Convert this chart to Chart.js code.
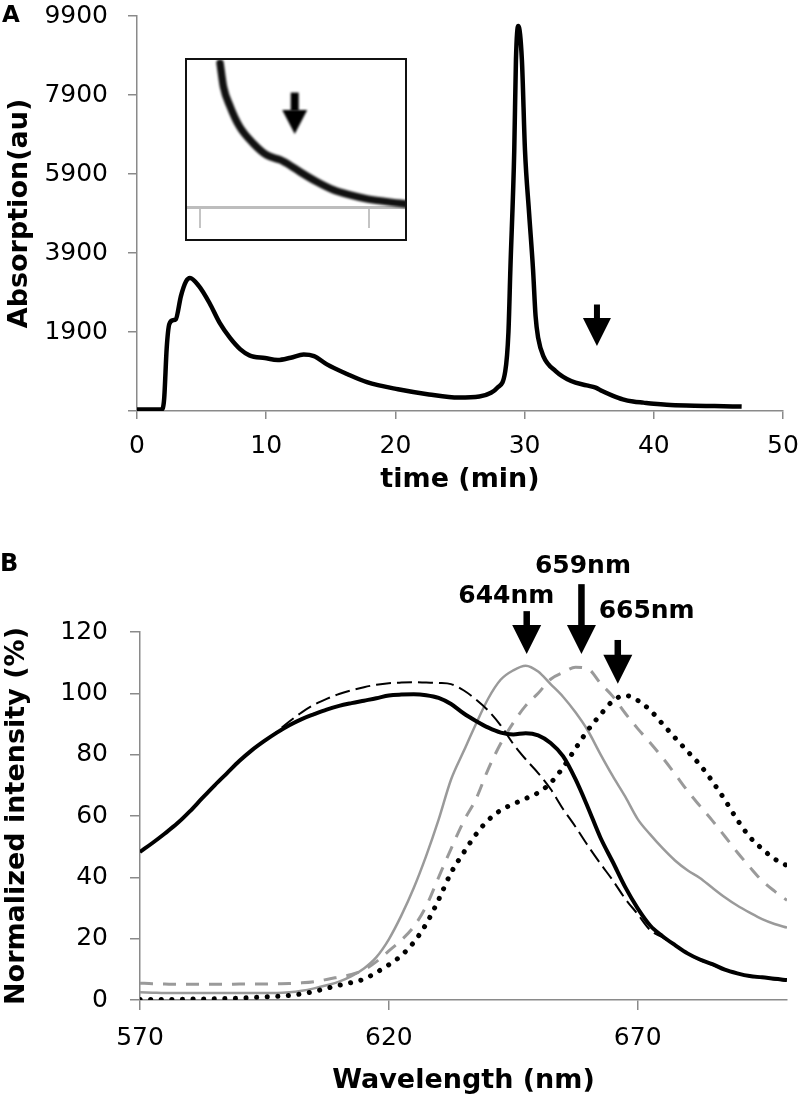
<!DOCTYPE html>
<html>
<head>
<meta charset="utf-8">
<script src="https://cdn.jsdelivr.net/npm/chart.js@4.4.1/dist/chart.umd.min.js"></script>
<style>
  html, body { margin: 0; padding: 0; background: #fff; }
  #wrap { position: relative; width: 800px; height: 1098px; }
  #chartA { position: absolute; left: 0; top: 0; }
  #chartB { position: absolute; left: 0; top: 530px; }
  #insetBox { position: absolute; left: 185px; top: 58px; width: 222px; height: 183px;
              border: 2px solid #111; box-sizing: border-box; background: #fff; }
  #insetBox canvas { display: block; }
</style>
</head>
<body>
<div id="wrap">
  <canvas id="chartA" width="800" height="530"></canvas>
  <div id="insetBox"><canvas id="chartInset" width="218" height="179"></canvas></div>
  <canvas id="chartB" width="800" height="568"></canvas>
</div>
<script>
// ---- Panel A: chromatogram ----
const timeMin = [0, 1.9, 2.1, 2.3, 2.5, 2.8, 3.0, 3.4, 3.8, 4.1, 4.8, 5.6, 6.4, 7.2, 8.0, 8.7,
  9.9, 10.9, 11.9, 12.9, 13.7, 14.7, 16.3, 17.8, 20.2, 22.6, 24.9, 26.5, 27.4, 27.9, 28.5,
  28.75, 28.9, 29.2, 29.33, 29.51, 29.79, 30.03, 30.35, 30.65, 30.85, 31.05, 31.45, 32.4, 33.6,
  34.8, 35.5, 36.0, 36.8, 37.6, 38.4, 39.2, 40.0, 41.0, 42.5, 44.7, 46.8];
const absorbance = [-60, -60, 200, 1500, 2100, 2200, 2220, 2810, 3185, 3270, 3060, 2640, 2130,
  1750, 1460, 1310, 1240, 1190, 1250, 1330, 1290, 1080, 830, 630, 450, 320, 240, 265, 360, 490,
  900, 1900, 3500, 6500, 8790, 9650, 8790, 6500, 4900, 3500, 2300, 1750, 1290, 910, 658, 549,
  490, 405, 290, 196, 140, 112, 85, 60, 40, 25, 12];
const yTicksA = [-100, 1900, 3900, 5900, 7900, 9900];

// inset (zoom on the shoulder near 35 min)
const insetTime = [34.24, 34.28, 34.36, 34.47, 34.63, 34.79, 34.95, 35.06, 35.18, 35.38, 35.58,
  35.77, 35.97, 36.36, 36.43];
const insetAbs = [887, 791, 709, 628, 560, 512, 492, 471, 444, 403, 369, 349, 333, 315, 312];
const insetTicks = [34, 36];

// arrows on panel A (x, top of shaft, tip)
const arrowA = { x: [35.6], top: [2596], tip: [1543] };
const arrowInset = { x: [35.12], top: [767], tip: [598] };

// ---- Panel B: spectra ----
const wavelength = [570, 572.5, 575, 577.5, 580, 582.5, 585, 587.5, 590, 592.5, 595, 597.5,
  600, 602.5, 605, 607.5, 610, 612.5, 615, 617.5, 620, 622.5, 625, 627.5, 630, 632.5, 635,
  637.5, 640, 642.5, 645, 647.5, 650, 652.5, 655, 657.5, 660, 662.5, 665, 667.5, 670, 672.5,
  675, 677.5, 680, 682.5, 685, 687.5, 690, 692.5, 695, 697.5, 700];
const blackSolid = [48.3, 51.2, 54.3, 57.6, 61.5, 65.8, 70.0, 74.0, 78.0, 81.5, 84.5, 87.2,
  89.6, 91.6, 93.2, 94.7, 95.9, 96.8, 97.6, 98.4, 99.3, 99.6, 99.7, 99.4, 98.5, 96.5, 93.5,
  91.0, 88.8, 87.2, 86.6, 87.0, 86.3, 83.8, 79.5, 72.0, 62.8, 53.0, 45.0, 36.8, 29.9, 24.3,
  20.8, 17.9, 15.2, 13.2, 11.7, 9.9, 8.7, 7.8, 7.4, 6.9, 6.5];
const blackDashed = [48.3, 51.2, 54.3, 57.6, 61.5, 65.8, 70.0, 74.0, 78.0, 81.5, 84.5, 87.5,
  90.8, 93.8, 96.3, 98.2, 99.8, 101.0, 102.0, 102.8, 103.3, 103.5, 103.6, 103.5, 103.4, 103.0,
  101.0, 98.0, 94.3, 89.5, 83.5, 78.5, 74.0, 68.8, 62.3, 56.5, 50.3, 44.5, 39.0, 33.0, 28.0,
  22.8, 20.4, 17.7, 15.1, 13.0, 11.5, 9.8, 8.6, 7.7, 7.2, 6.7, 6.3];
const graySolid = [2.5, 2.4, 2.3, 2.3, 2.3, 2.3, 2.3, 2.3, 2.3, 2.3, 2.3, 2.3, 2.5, 3.0, 3.8,
  4.8, 6.0, 7.8, 10.3, 14.0, 19.8, 27.5, 36.5, 47.0, 58.8, 71.9, 81.0, 90.0, 98.4, 104.5, 107.5,
  109.0, 107.1, 103.0, 98.9, 93.8, 87.8, 80.2, 73.0, 66.3, 59.0, 54.0, 49.5, 45.5, 42.3, 39.8,
  36.6, 33.5, 30.8, 28.5, 26.4, 24.8, 23.6];
const grayDashed = [5.5, 5.3, 5.2, 5.1, 5.1, 5.1, 5.1, 5.1, 5.2, 5.2, 5.2, 5.3, 5.4, 5.6, 6.0,
  6.7, 7.5, 8.3, 9.8, 12.5, 16.0, 19.5, 23.9, 30.6, 40.0, 49.3, 58.2, 65.5, 75.4, 83.7, 90.4,
  96.0, 100.0, 104.6, 106.8, 108.5, 108.0, 103.3, 99.0, 93.5, 88.5, 83.9, 79.0, 73.7, 68.2,
  63.3, 58.5, 53.4, 48.2, 43.4, 38.9, 35.5, 32.5];
const dotted = [0.2, 0.2, 0.2, 0.2, 0.3, 0.3, 0.4, 0.5, 0.6, 0.8, 1.0, 1.2, 1.5, 2.0, 2.8, 3.8,
  4.8, 5.7, 6.8, 9.0, 11.5, 14.5, 18.8, 24.8, 32.7, 41.5, 48.0, 54.0, 58.7, 61.9, 63.9, 65.7,
  67.6, 70.8, 75.8, 82.0, 88.0, 93.0, 97.5, 99.3, 97.7, 94.5, 90.0, 85.5, 81.1, 76.7, 71.3,
  65.3, 58.8, 53.2, 49.3, 46.0, 43.8];
const xTicksB = [570, 620, 670];

// peak arrows + labels on panel B
const peakLabels = ['644nm', '659nm', '665nm'];
const arrowB = { x: [647.7, 658.7, 666.0], top: [126.8, 135.6, 117.4], tip: [112.8, 112.8, 103.1] };
const labelB = { x: [643.6, 659.0, 671.8], y: [129.4, 139.2, 124.6] };

const axisGray = '#8a8a8a';
const tickFont = { family: 'DejaVu Sans', size: 25 };
const titleFont = { family: 'DejaVu Sans', size: 27, weight: 'bold' };

function pts(xs, ys) {
  return xs.map((x, i) => ({ x: x, y: ys[i] }));
}

// the tick label overflow would push the plot area in; layout padding handles it instead
function noOverflow(s) {
  s.paddingTop = 0; s.paddingBottom = 0; s.paddingLeft = 0; s.paddingRight = 0;
}

// draws down-arrows (and optional labels) in data coordinates
const arrowPlugin = {
  id: 'arrows',
  afterDatasetsDraw(chart, args, opts) {
    const a = opts.data;
    if (!a) return;
    const ctx = chart.ctx;
    const sx = chart.scales.x, sy = chart.scales.y;
    ctx.save();
    ctx.fillStyle = '#000';
    for (let i = 0; i < a.x.length; i++) {
      const px = sx.getPixelForValue(a.x[i]);
      const top = sy.getPixelForValue(a.top[i]);
      const tip = sy.getPixelForValue(a.tip[i]);
      const head = tip - opts.headLen;
      ctx.fillRect(px - opts.shaft / 2, top, opts.shaft, head - top + 1);
      ctx.beginPath();
      ctx.moveTo(px - opts.headW / 2, head);
      ctx.lineTo(px + opts.headW / 2, head);
      ctx.lineTo(px, tip);
      ctx.closePath();
      ctx.fill();
    }
    if (opts.labels) {
      ctx.font = 'bold 25px "DejaVu Sans"';
      ctx.textAlign = 'center';
      ctx.textBaseline = 'alphabetic';
      opts.labels.text.forEach((t, i) => {
        ctx.fillText(t, sx.getPixelForValue(opts.labels.x[i]), sy.getPixelForValue(opts.labels.y[i]));
      });
    }
    ctx.restore();
  }
};

// panel letter in the corner
const letterPlugin = {
  id: 'letter',
  afterDraw(chart, args, opts) {
    if (!opts.text) return;
    const ctx = chart.ctx;
    ctx.save();
    ctx.font = 'bold ' + opts.size + 'px "DejaVu Sans"';
    ctx.fillStyle = '#000';
    ctx.textAlign = 'left';
    ctx.textBaseline = 'alphabetic';
    ctx.fillText(opts.text, opts.x, opts.y);
    ctx.restore();
  }
};

// soft blur for the inset trace (it is a zoomed screenshot in the original)
const blurPlugin = {
  id: 'blurLine',
  beforeDatasetsDraw(chart, args, opts) {
    if (!opts.on) return;
    chart.ctx.save();
    chart.ctx.filter = 'blur(1px)';
  },
  afterDatasetsDraw(chart, args, opts) {
    if (!opts.on) return;
    chart.ctx.restore();
  }
};

Chart.register(arrowPlugin, letterPlugin, blurPlugin);

function axisStyle(tickLen) {
  return {
    grid: { drawOnChartArea: false, drawTicks: true, tickLength: tickLen, color: axisGray, lineWidth: 1.5 },
    border: { display: true, color: axisGray, width: 1.5 }
  };
}

// Panel A
new Chart(document.getElementById('chartA'), {
  type: 'line',
  data: {
    datasets: [{
      data: pts(timeMin, absorbance),
      borderColor: '#000',
      borderWidth: 4.5,
      pointRadius: 0,
      cubicInterpolationMode: 'monotone',
      fill: false
    }]
  },
  options: {
    responsive: false,
    animation: false,
    devicePixelRatio: 1,
    layout: { padding: { left: 0, right: 17, top: 16, bottom: 29 } },
    plugins: {
      legend: { display: false },
      tooltip: { enabled: false },
      arrows: { data: arrowA, headLen: 28, headW: 28, shaft: 6 },
      letter: { text: 'A', x: 2, y: 22, size: 23 }
    },
    scales: {
      x: Object.assign({
        type: 'linear', min: 0, max: 50,
        ticks: { stepSize: 10, font: tickFont, color: '#000', padding: 12, maxRotation: 0 },
        title: { display: true, text: 'time (min)', font: titleFont, color: '#000', padding: { top: 0, bottom: 5 } },
        afterFit: s => { s.height = 90; noOverflow(s); }
      }, axisStyle(8)),
      y: Object.assign({
        type: 'linear', min: -100, max: 9900,
        afterBuildTicks: s => { s.ticks = yTicksA.map(v => ({ value: v })); },
        ticks: { font: tickFont, color: '#000', padding: 20, callback: v => (v < 0 ? '' : String(v)) },
        title: { display: true, text: 'Absorption(au)', font: titleFont, color: '#000', padding: { top: 4, bottom: 0 } },
        afterFit: s => { s.width = 137; noOverflow(s); }
      }, axisStyle(9))
    }
  }
});

// Inset
new Chart(document.getElementById('chartInset'), {
  type: 'line',
  data: {
    datasets: [{
      data: pts(insetTime, insetAbs),
      borderColor: '#111',
      borderWidth: 7.5,
      pointRadius: 0,
      cubicInterpolationMode: 'monotone',
      borderCapStyle: 'round',
      fill: false,
      clip: false
    }]
  },
  options: {
    responsive: false,
    animation: false,
    devicePixelRatio: 1,
    layout: { padding: 0 },
    plugins: {
      legend: { display: false },
      tooltip: { enabled: false },
      blurLine: { on: true },
      arrows: { data: arrowInset, headLen: 24, headW: 25, shaft: 8 }
    },
    scales: {
      x: {
        type: 'linear', min: 33.85, max: 36.42,
        afterBuildTicks: s => { s.ticks = insetTicks.map(v => ({ value: v })); },
        ticks: { display: false },
        grid: { drawOnChartArea: false, drawTicks: true, tickLength: 21, color: '#c4c4c4', lineWidth: 2 },
        border: { display: true, color: '#bdbdbd', width: 3 },
        afterFit: s => { s.height = 32; noOverflow(s); }
      },
      y: { type: 'linear', min: 300, max: 900, display: false }
    }
  }
});

// Panel B
new Chart(document.getElementById('chartB'), {
  type: 'line',
  data: {
    datasets: [
      { data: pts(wavelength, blackSolid), borderColor: '#000', borderWidth: 4, pointRadius: 0,
        cubicInterpolationMode: 'monotone', fill: false },
      { data: pts(wavelength, blackDashed), borderColor: '#000', borderWidth: 2, borderDash: [15, 6],
        pointRadius: 0, cubicInterpolationMode: 'monotone', fill: false },
      { data: pts(wavelength, dotted), borderColor: '#000', borderWidth: 5, borderDash: [0.1, 10.5],
        borderCapStyle: 'round', pointRadius: 0, cubicInterpolationMode: 'monotone', fill: false },
      { data: pts(wavelength, grayDashed), borderColor: '#9a9a9a', borderWidth: 3, borderDash: [13, 10],
        pointRadius: 0, cubicInterpolationMode: 'monotone', fill: false },
      { data: pts(wavelength, graySolid), borderColor: '#9a9a9a', borderWidth: 2.5, pointRadius: 0,
        cubicInterpolationMode: 'monotone', fill: false }
    ]
  },
  options: {
    responsive: false,
    animation: false,
    devicePixelRatio: 1,
    layout: { padding: { left: 0, right: 13, top: 102, bottom: 0 } },
    plugins: {
      legend: { display: false },
      tooltip: { enabled: false },
      arrows: { data: arrowB, headLen: 29, headW: 29, shaft: 6.5,
                labels: { text: peakLabels, x: labelB.x, y: labelB.y } },
      letter: { text: 'B', x: 0, y: 41, size: 24 }
    },
    scales: {
      x: Object.assign({
        type: 'linear', min: 570, max: 700,
        afterBuildTicks: s => { s.ticks = xTicksB.map(v => ({ value: v })); },
        ticks: { font: tickFont, color: '#000', padding: 13, maxRotation: 0 },
        title: { display: true, text: 'Wavelength (nm)', font: titleFont, color: '#000', padding: { top: 0, bottom: 1 } },
        afterFit: s => { s.height = 98; noOverflow(s); }
      }, axisStyle(10)),
      y: Object.assign({
        type: 'linear', min: 0, max: 120,
        ticks: { stepSize: 20, font: tickFont, color: '#000', padding: 22 },
        title: { display: true, text: 'Normalized intensity (%)', font: titleFont, color: '#000', padding: { top: 1, bottom: 0 } },
        afterFit: s => { s.width = 140; noOverflow(s); }
      }, axisStyle(10))
    }
  }
});
</script>
</body>
</html>
